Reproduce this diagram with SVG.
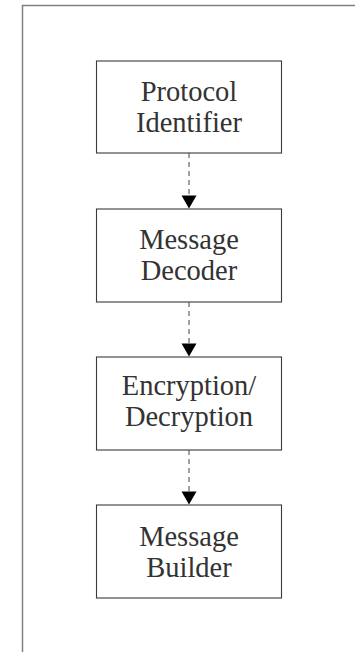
<svg xmlns="http://www.w3.org/2000/svg" width="355" height="652" viewBox="0 0 355 652">
<style>
.frame{fill:none;stroke:#808080;stroke-width:1.5}
.box{fill:#fff;stroke:#3a3a3a;stroke-width:1.1}
.lbl{font-family:"Liberation Serif","Times New Roman",serif;font-size:28.5px;fill:#333;text-anchor:middle}
.conn{stroke:#555;stroke-width:1.1;stroke-dasharray:5,4;fill:none}
.head{fill:#000}
</style>
<rect width="355" height="652" fill="#fff"/>
<path class="frame" d="M22.5,652 V5.5 H355"/>
<g id="connectors">
  <line class="conn" x1="189" y1="153" x2="189" y2="196"/>
  <polygon class="head" points="181.5,195.5 196.5,195.5 189,208.5"/>
  <line class="conn" x1="189" y1="302" x2="189" y2="344"/>
  <polygon class="head" points="181.5,343.5 196.5,343.5 189,356.5"/>
  <line class="conn" x1="189" y1="450" x2="189" y2="492"/>
  <polygon class="head" points="181.5,491.5 196.5,491.5 189,504.5"/>
</g>
<g id="protocol-identifier">
  <rect class="box" x="96.5" y="61" width="185" height="92"/>
  <text class="lbl" x="189" y="101">Protocol</text>
  <text class="lbl" x="189" y="132">Identifier</text>
</g>
<g id="message-decoder">
  <rect class="box" x="96.5" y="209" width="185" height="93"/>
  <text class="lbl" x="189" y="249">Message</text>
  <text class="lbl" x="189" y="280">Decoder</text>
</g>
<g id="encryption-decryption">
  <rect class="box" x="96.5" y="357" width="185" height="93"/>
  <text class="lbl" x="189" y="395">Encryption/</text>
  <text class="lbl" x="189" y="426">Decryption</text>
</g>
<g id="message-builder">
  <rect class="box" x="96.5" y="505" width="185" height="93"/>
  <text class="lbl" x="189" y="546">Message</text>
  <text class="lbl" x="189" y="577">Builder</text>
</g>
</svg>
